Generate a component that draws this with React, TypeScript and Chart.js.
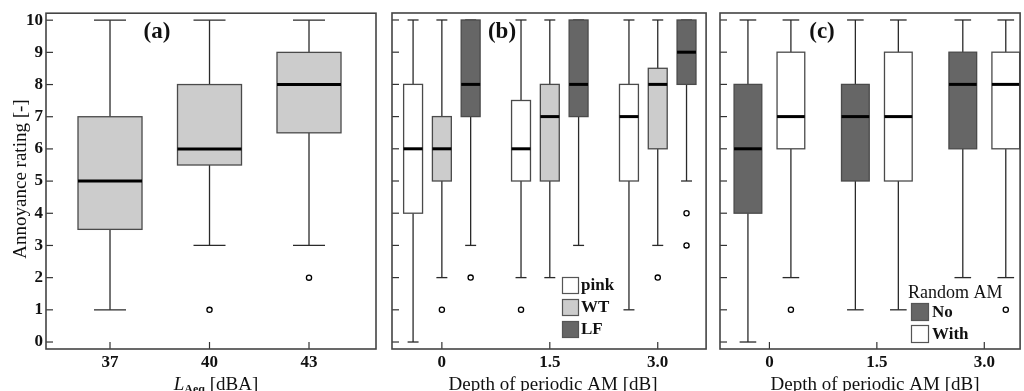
import React, { useEffect, useRef } from 'react';
import { Chart, registerables } from 'chart.js';

Chart.register(...registerables);

// ---------- Data ----------
const ratingTicks = [0, 1, 2, 3, 4, 5, 6, 7, 8, 9, 10];

// Panel (a): L_Aeq levels
const levelLabels = ['37', '40', '43'];
const levelValues = [37, 40, 43];
const aLow = [1, 3, 3];
const aQ1 = [3.5, 5.5, 6.5];
const aMedian = [5, 6, 8];
const aQ3 = [7, 8, 9];
const aHigh = [10, 10, 10];
const aOutliers: number[][] = [[], [1], [2]];

// Panel (b): depth of periodic AM, noise type
const depthLabels = ['0', '1.5', '3.0'];
const depthValues = [0, 1.5, 3.0];

const pinkLow = [0, 2, 1];
const pinkQ1 = [4, 5, 5];
const pinkMedian = [6, 6, 7];
const pinkQ3 = [8, 7.5, 8];
const pinkHigh = [10, 10, 10];
const pinkOutliers: number[][] = [[], [1], []];

const wtLow = [2, 2, 3];
const wtQ1 = [5, 5, 6];
const wtMedian = [6, 7, 8];
const wtQ3 = [7, 8, 8.5];
const wtHigh = [10, 10, 10];
const wtOutliers: number[][] = [[1], [], [2]];

const lfLow = [3, 3, 5];
const lfQ1 = [7, 7, 8];
const lfMedian = [8, 8, 9];
const lfQ3 = [10, 10, 10];
const lfHigh = [10, 10, 10];
const lfOutliers: number[][] = [[2], [], [4, 3]];

// Panel (c): random AM
const noLow = [0, 1, 2];
const noQ1 = [4, 5, 6];
const noMedian = [6, 7, 8];
const noQ3 = [8, 8, 9];
const noHigh = [10, 10, 10];
const noOutliers: number[][] = [[], [], []];

const withLow = [2, 1, 2];
const withQ1 = [6, 5, 6];
const withMedian = [7, 7, 8];
const withQ3 = [9, 9, 9];
const withHigh = [10, 10, 10];
const withOutliers: number[][] = [[1], [], [1]];

// ---------- Styles ----------
const SERIF = "'Liberation Serif', 'Times New Roman', serif";
const LIGHT = '#cccccc';
const DARK = '#666666';
const WHITE = '#ffffff';

type Series = {
  name: string;
  fill: string;
  offset: number;
  low: number[];
  q1: number[];
  med: number[];
  q3: number[];
  high: number[];
  outliers: number[][];
};

type Panel = {
  key: string;
  left: number;
  width: number;
  yWidth: number;
  padRight: number;
  xMin: number;
  xMax: number;
  positions: number[];
  labels: string[];
  boxWidth: number;
  capRatio: number;
  showYLabels: boolean;
  tag: string;
  tagX: number;
  series: Series[];
  drawExtras: (ctx: CanvasRenderingContext2D, chart: any) => void;
};

const line = (ctx: CanvasRenderingContext2D, x1: number, y1: number, x2: number, y2: number) => {
  ctx.beginPath();
  ctx.moveTo(x1, y1);
  ctx.lineTo(x2, y2);
  ctx.stroke();
};

const legendSquare = (ctx: CanvasRenderingContext2D, x: number, y: number, w: number, h: number, fill: string) => {
  ctx.fillStyle = fill;
  ctx.fillRect(x, y, w, h);
  ctx.strokeStyle = '#555';
  ctx.lineWidth = 1.2;
  ctx.strokeRect(x + 0.5, y + 0.5, w - 1, h - 1);
};

const panels: Panel[] = [
  {
    key: 'a',
    left: 0,
    width: 385,
    yWidth: 46,
    padRight: 9,
    xMin: 35.07,
    xMax: 45.02,
    positions: levelValues,
    labels: levelLabels,
    boxWidth: 1.93,
    capRatio: 0.5,
    showYLabels: true,
    tag: '(a)',
    tagX: 157,
    series: [
      { name: 'all', fill: LIGHT, offset: 0, low: aLow, q1: aQ1, med: aMedian, q3: aQ3, high: aHigh, outliers: aOutliers },
    ],
    drawExtras: (ctx, chart) => {
      // y title
      ctx.save();
      ctx.translate(26, 179);
      ctx.rotate(-Math.PI / 2);
      ctx.fillStyle = '#111';
      ctx.font = `19px ${SERIF}`;
      ctx.textAlign = 'center';
      ctx.textBaseline = 'alphabetic';
      ctx.fillText('Annoyance rating [-]', 0, 0);
      ctx.restore();
      // x title: L_Aeq [dBA]
      ctx.save();
      ctx.fillStyle = '#111';
      ctx.textBaseline = 'alphabetic';
      ctx.textAlign = 'left';
      const parts = [
        { t: 'L', f: `italic 19px ${SERIF}`, dy: 0 },
        { t: 'Aeq', f: `bold 12px ${SERIF}`, dy: 3 },
        { t: ' [dBA]', f: `19px ${SERIF}`, dy: 0 },
      ];
      let total = 0;
      parts.forEach((p) => {
        ctx.font = p.f;
        total += ctx.measureText(p.t).width;
      });
      const cx = (chart.chartArea.left + chart.chartArea.right) / 2 + 5;
      let x = cx - total / 2;
      parts.forEach((p) => {
        ctx.font = p.f;
        ctx.fillText(p.t, x, 390 + p.dy);
        x += ctx.measureText(p.t).width;
      });
      ctx.restore();
    },
  },
  {
    key: 'b',
    left: 385,
    width: 325,
    yWidth: 7,
    padRight: 3,
    xMin: -0.693,
    xMax: 3.672,
    positions: depthValues,
    labels: depthLabels,
    boxWidth: 0.263,
    capRatio: 0.58,
    showYLabels: false,
    tag: '(b)',
    tagX: 117,
    series: [
      { name: 'pink', fill: WHITE, offset: -0.4, low: pinkLow, q1: pinkQ1, med: pinkMedian, q3: pinkQ3, high: pinkHigh, outliers: pinkOutliers },
      { name: 'WT', fill: LIGHT, offset: 0, low: wtLow, q1: wtQ1, med: wtMedian, q3: wtQ3, high: wtHigh, outliers: wtOutliers },
      { name: 'LF', fill: DARK, offset: 0.4, low: lfLow, q1: lfQ1, med: lfMedian, q3: lfQ3, high: lfHigh, outliers: lfOutliers },
    ],
    drawExtras: (ctx, chart) => {
      ctx.save();
      ctx.fillStyle = '#111';
      ctx.font = `19px ${SERIF}`;
      ctx.textAlign = 'center';
      ctx.textBaseline = 'alphabetic';
      ctx.fillText('Depth of periodic AM [dB]', 168, 390);
      // legend
      const names = ['pink', 'WT', 'LF'];
      const fills = [WHITE, LIGHT, DARK];
      const tops = [277, 299, 321];
      names.forEach((n, i) => {
        legendSquare(ctx, 177, tops[i], 17, 17, fills[i]);
        ctx.fillStyle = '#111';
        ctx.font = `bold 17px ${SERIF}`;
        ctx.textAlign = 'left';
        ctx.textBaseline = 'middle';
        ctx.fillText(n, 196, tops[i] + 9);
      });
      ctx.restore();
    },
  },
  {
    key: 'c',
    left: 710,
    width: 314,
    yWidth: 10,
    padRight: 1,
    xMin: -0.69,
    xMax: 3.5,
    positions: depthValues,
    labels: depthLabels,
    boxWidth: 0.387,
    capRatio: 0.6,
    showYLabels: false,
    tag: '(c)',
    tagX: 112,
    series: [
      { name: 'No', fill: DARK, offset: -0.3, low: noLow, q1: noQ1, med: noMedian, q3: noQ3, high: noHigh, outliers: noOutliers },
      { name: 'With', fill: WHITE, offset: 0.3, low: withLow, q1: withQ1, med: withMedian, q3: withQ3, high: withHigh, outliers: withOutliers },
    ],
    drawExtras: (ctx, chart) => {
      ctx.save();
      ctx.fillStyle = '#111';
      ctx.font = `19px ${SERIF}`;
      ctx.textAlign = 'center';
      ctx.textBaseline = 'alphabetic';
      ctx.fillText('Depth of periodic AM [dB]', 165, 390);
      // legend
      ctx.font = `18px ${SERIF}`;
      ctx.textAlign = 'left';
      ctx.fillText('Random AM', 198, 298);
      const names = ['No', 'With'];
      const fills = [DARK, WHITE];
      const tops = [303, 325];
      names.forEach((n, i) => {
        legendSquare(ctx, 201, tops[i], 18, 18, fills[i]);
        ctx.fillStyle = '#111';
        ctx.font = `bold 17px ${SERIF}`;
        ctx.textAlign = 'left';
        ctx.textBaseline = 'middle';
        ctx.fillText(n, 222, tops[i] + 10);
      });
      ctx.restore();
    },
  },
];

const makePlugin = (panel: Panel) => ({
  id: 'boxes-' + panel.key,
  beforeDatasetsDraw(chart: any) {
    const { ctx, scales } = chart;
    const x = scales.x;
    const y = scales.y;
    ctx.save();
    panel.series.forEach((s) => {
      panel.positions.forEach((pos, i) => {
        const c = pos + s.offset;
        const cx = x.getPixelForValue(c);
        const left = x.getPixelForValue(c - panel.boxWidth / 2);
        const right = x.getPixelForValue(c + panel.boxWidth / 2);
        const half = (right - left) / 2;
        const capHalf = half * panel.capRatio;
        const yLow = y.getPixelForValue(s.low[i]);
        const yQ1 = y.getPixelForValue(s.q1[i]);
        const yMed = y.getPixelForValue(s.med[i]);
        const yQ3 = y.getPixelForValue(s.q3[i]);
        const yHigh = y.getPixelForValue(s.high[i]);
        // whiskers
        ctx.strokeStyle = '#2a2a2a';
        ctx.lineWidth = 1.3;
        line(ctx, cx, yHigh, cx, yQ3);
        line(ctx, cx, yQ1, cx, yLow);
        line(ctx, cx - capHalf, yHigh, cx + capHalf, yHigh);
        line(ctx, cx - capHalf, yLow, cx + capHalf, yLow);
        // box
        ctx.fillStyle = s.fill;
        ctx.fillRect(left, yQ3, right - left, yQ1 - yQ3);
        ctx.strokeStyle = '#4a4a4a';
        ctx.lineWidth = 1.3;
        ctx.strokeRect(left, yQ3, right - left, yQ1 - yQ3);
        // median
        ctx.strokeStyle = '#000';
        ctx.lineWidth = 3;
        line(ctx, left, yMed, right, yMed);
      });
    });
    ctx.restore();
  },
  afterDraw(chart: any) {
    const { ctx, chartArea, scales } = chart;
    const x = scales.x;
    const y = scales.y;
    ctx.save();
    // inward ticks
    ctx.strokeStyle = '#333';
    ctx.lineWidth = 1.2;
    y.ticks.forEach((t: any) => {
      const py = y.getPixelForValue(t.value);
      line(ctx, chartArea.left, py, chartArea.left + 7, py);
    });
    x.ticks.forEach((t: any) => {
      const px = x.getPixelForValue(t.value);
      line(ctx, px, chartArea.bottom, px, chartArea.bottom - 7);
    });
    // frame
    ctx.strokeStyle = '#444';
    ctx.lineWidth = 1.6;
    ctx.strokeRect(chartArea.left, chartArea.top, chartArea.right - chartArea.left, chartArea.bottom - chartArea.top);
    // panel tag
    ctx.fillStyle = '#111';
    ctx.font = `bold 23px ${SERIF}`;
    ctx.textAlign = 'center';
    ctx.textBaseline = 'middle';
    ctx.fillText(panel.tag, panel.tagX, 32);
    ctx.restore();
    panel.drawExtras(ctx, chart);
  },
});

const buildDatasets = (panel: Panel) =>
  panel.series.map((s) => ({
    type: 'scatter' as const,
    label: s.name,
    data: panel.positions.flatMap((pos, i) => s.outliers[i].map((v) => ({ x: pos + s.offset, y: v }))),
    pointRadius: 2.6,
    pointHoverRadius: 2.6,
    pointBackgroundColor: '#fff',
    pointBorderColor: '#000',
    pointBorderWidth: 1.3,
    showLine: false,
  }));

const PanelChart: React.FC<{ panel: Panel }> = ({ panel }) => {
  const ref = useRef<HTMLCanvasElement | null>(null);
  useEffect(() => {
    if (!ref.current) return;
    const chart = new Chart(ref.current, {
      type: 'scatter',
      data: { datasets: buildDatasets(panel) as any },
      options: {
        animation: false,
        responsive: false,
        maintainAspectRatio: false,
        devicePixelRatio: 1,
        layout: { padding: { top: 13, right: panel.padRight, left: 0, bottom: 0 } },
        plugins: { legend: { display: false }, tooltip: { enabled: false } },
        scales: {
          x: {
            type: 'linear',
            min: panel.xMin,
            max: panel.xMax,
            afterBuildTicks: (s: any) => {
              s.ticks = panel.positions.map((v) => ({ value: v }));
            },
            afterFit: (s: any) => {
              s.height = 42;
            },
            ticks: {
              autoSkip: false,
              maxRotation: 0,
              padding: 3,
              color: '#111',
              font: { family: SERIF, size: 17, weight: 'bold' },
              callback: (_v: any, i: number) => panel.labels[i],
            },
            grid: { display: false, drawTicks: false },
            border: { display: false },
          },
          y: {
            type: 'linear',
            min: -0.217,
            max: 10.217,
            afterBuildTicks: (s: any) => {
              s.ticks = ratingTicks.map((v) => ({ value: v }));
            },
            afterFit: (s: any) => {
              s.width = panel.yWidth;
            },
            ticks: {
              display: panel.showYLabels,
              padding: 3,
              color: '#111',
              font: { family: SERIF, size: 17, weight: 'bold' },
              callback: (v: any) => String(v),
            },
            grid: { display: false, drawTicks: false },
            border: { display: false },
          },
        },
      } as any,
      plugins: [makePlugin(panel)],
    });
    return () => chart.destroy();
  }, [panel]);
  return (
    <canvas
      ref={ref}
      width={panel.width}
      height={391}
      style={{ position: 'absolute', left: panel.left, top: 0, width: panel.width, height: 391 }}
    />
  );
};

export default function App() {
  return (
    <div style={{ position: 'absolute', left: 0, top: 0, width: 1024, height: 391, background: '#fff', overflow: 'hidden' }}>
      {panels.map((p) => (
        <PanelChart key={p.key} panel={p} />
      ))}
    </div>
  );
}
